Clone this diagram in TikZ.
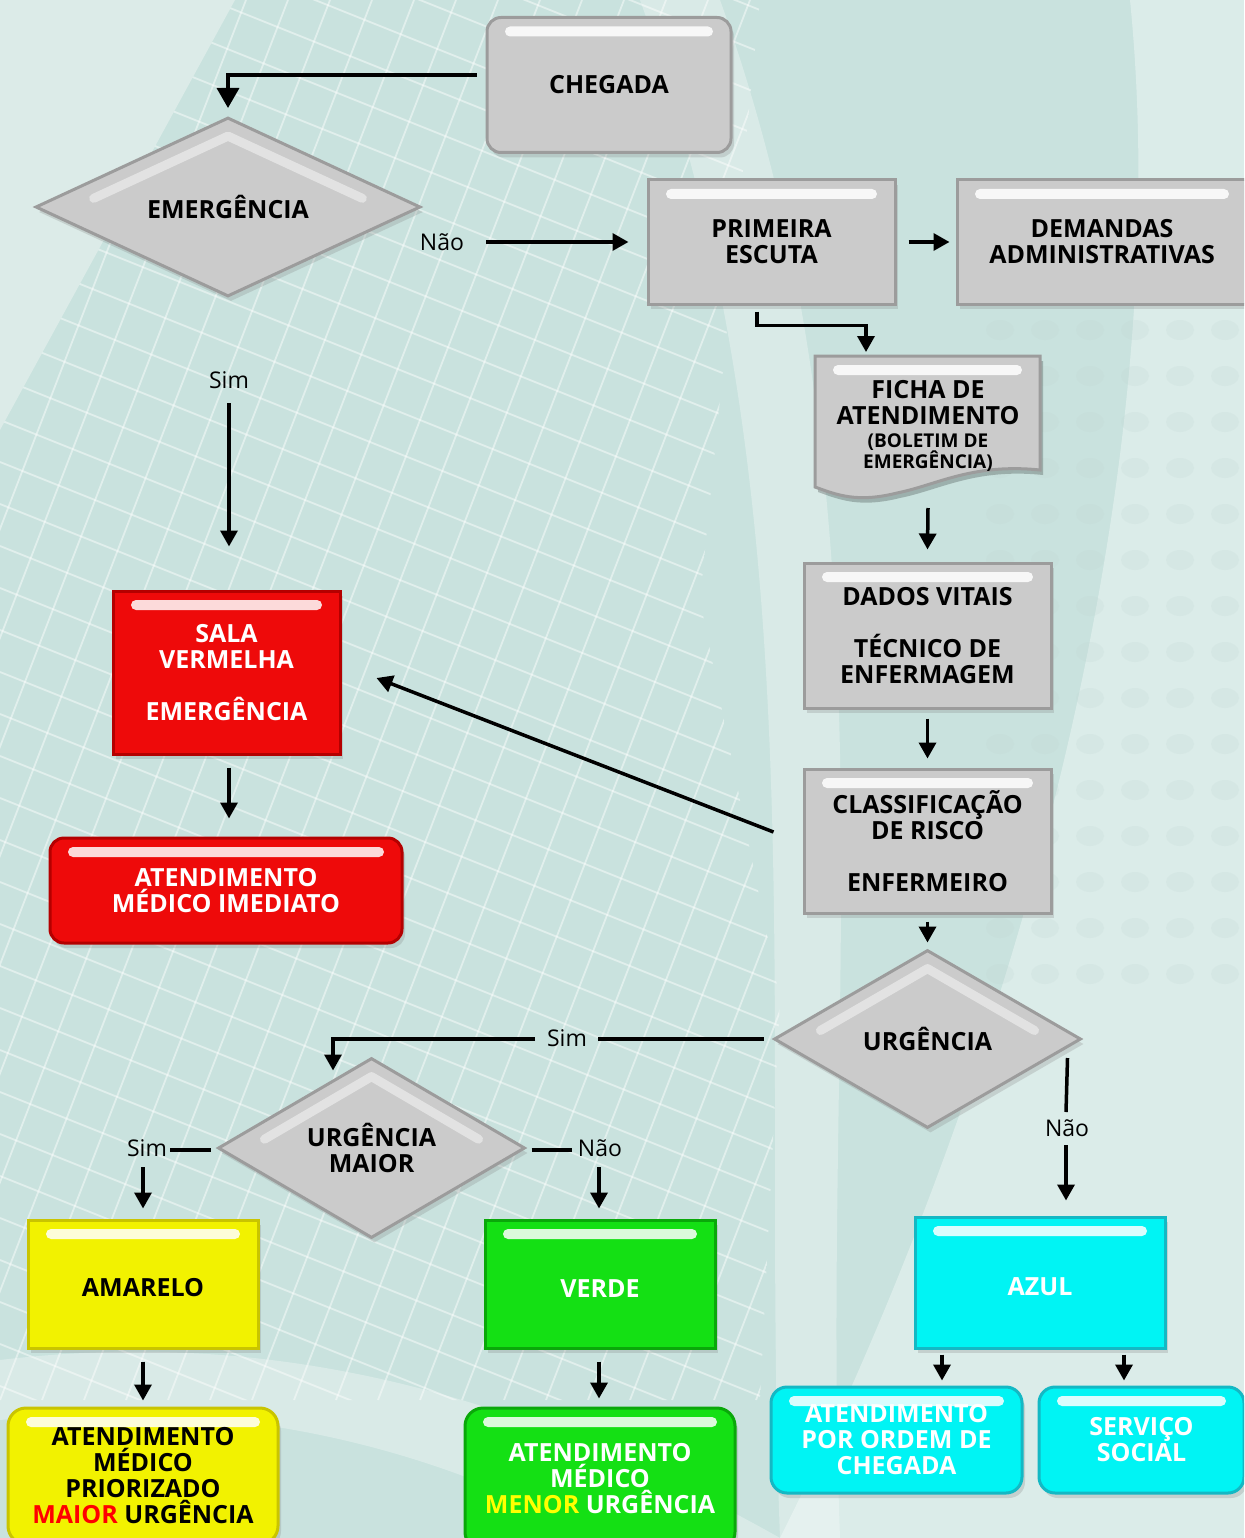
\documentclass[tikz,border=0pt]{standalone}
\usepackage{fontspec}
\setmainfont{Open Sans}
\usetikzlibrary{shapes.geometric,arrows.meta,shadows,calc}
\definecolor{bgA}{HTML}{C9E2DE}
\definecolor{bgL}{HTML}{DCEBE8}
\definecolor{boxgray}{HTML}{CBCBCB}
\definecolor{edgegray}{HTML}{9C9C9C}
\definecolor{rd}{HTML}{EE0A0A}
\definecolor{rdedge}{HTML}{B40000}
\definecolor{yl}{HTML}{F2F200}
\definecolor{yledge}{HTML}{C9C400}
\definecolor{gr}{HTML}{14E014}
\definecolor{gredge}{HTML}{0AA80A}
\definecolor{cy}{HTML}{00F4F4}
\definecolor{cyedge}{HTML}{14B8C4}
\definecolor{pured}{HTML}{FF0000}
\definecolor{pureyl}{HTML}{FFFF00}
\tikzset{
  bfont/.style={font=\bfseries\fontsize{25}{26}\selectfont},
  flowbox/.style={rectangle, inner sep=0pt, align=center, bfont, line width=3pt,
    drop shadow={opacity=.25,shadow xshift=3pt,shadow yshift=-5pt},
    path picture={\fill[white,opacity=.85,rounded corners=5pt]
      ($(path picture bounding box.north west)+(18,9)$) rectangle
      ($(path picture bounding box.north east)+(-18,19)$);}},
  graybox/.style={flowbox, fill=boxgray, draw=edgegray, text=black},
  redbox/.style={flowbox, fill=rd, draw=rdedge, text=white},
  ylbox/.style={flowbox, fill=yl, draw=yledge, text=black},
  grbox/.style={flowbox, fill=gr, draw=gredge, text=white},
  cybox/.style={flowbox, fill=cy, draw=cyedge, text=white},
  decision/.style={diamond, inner sep=0pt, align=center, bfont, fill=boxgray,
    draw=edgegray, line width=3pt, text=black,
    drop shadow={opacity=.25,shadow xshift=3pt,shadow yshift=-5pt},
    path picture={\draw[white,opacity=.45,line width=9pt,line cap=round,line join=round]
      ($(path picture bounding box.west)!0.3!(path picture bounding box.north)+(0,18)$) --
      ($(path picture bounding box.north)+(0,18)$) --
      ($(path picture bounding box.east)!0.3!(path picture bounding box.north)+(0,18)$);}},
  lbl/.style={font=\fontsize{23}{26}\selectfont, inner sep=0pt, text=black},
  conn/.style={line width=3.5pt, black},
  arr/.style={conn, -{Triangle[width=17pt,length=16pt]}},
  bigarr/.style={conn, -{Triangle[width=22pt,length=20pt]}},
}
\begin{document}
\begin{tikzpicture}[x=1pt,y=-1pt]
\useasboundingbox (0,0) rectangle (1244,1538);
\clip (0,0) rectangle (1244,1538);
% ---------- background ----------
\fill[bgA] (0,0) rectangle (1244,1538);
\fill[bgL] (0,0) -- (235,0) -- (0,430) -- cycle;
\fill[white,opacity=.35] (1244,0) -- (1130,0) .. controls (1180,500) and (1000,1100) .. (780,1538) -- (1244,1538) -- cycle;
\fill[white,opacity=.3] (640,0) .. controls (820,500) and (760,1000) .. (780,1538) -- (840,1538) .. controls (820,1000) and (900,500) .. (720,0) -- cycle;
\fill[white,opacity=.3] (0,1360) .. controls (250,1330) and (500,1380) .. (780,1538) -- (600,1538) .. controls (400,1430) and (200,1400) .. (0,1420) -- cycle;
\begin{scope}
  \clip (235,0) -- (760,0) -- (700,600) -- (780,1000) -- (760,1400) -- (0,1400) -- (0,430) -- cycle;
  \foreach \i in {0,...,32} {
    \draw[white,opacity=.45,line width=1.8pt] (\i*42-420,1400) -- (\i*42+120,0);
  }
  \foreach \j in {-12,...,36} {
    \draw[white,opacity=.45,line width=1.8pt] (0,\j*42) -- (800,\j*42+320);
  }
\end{scope}
\foreach \r in {0,...,14} {
  \foreach \c in {0,...,5} {
    \fill[bgA!85!gray,opacity=.18] (1000+\c*45,330+\r*46) ellipse (14pt and 10pt);
  }
}
% ---------- nodes ----------
\node[graybox, rounded corners=14pt, minimum width=244pt, minimum height=135pt] (chegada) at (609,85) {CHEGADA};
\node[decision, aspect=2.15, minimum width=385pt, minimum height=179pt] (emerg) at (228,207) {EMERGÊNCIA};
\node[graybox, minimum width=247pt, minimum height=124pt] (primeira) at (771.5,242) {PRIMEIRA\\ESCUTA};
\node[graybox, minimum width=290pt, minimum height=124pt] (demandas) at (1102,242) {DEMANDAS\\ADMINISTRATIVAS};
% ficha (document shape)
\fill[black,opacity=.22] (818,361) -- (1043,361) -- (1043,475) .. controls (975,468) and (940,490) .. (900,498) .. controls (860,508) and (840,500) .. (818,492) -- cycle;
\filldraw[fill=boxgray, draw=edgegray, line width=3pt] (815,356) -- (1040,356) -- (1040,470) .. controls (972,463) and (937,485) .. (897,493) .. controls (857,503) and (837,495) .. (815,487) -- cycle;
\fill[white,opacity=.85,rounded corners=5pt] (833,365) rectangle (1022,375);
\node[inner sep=0pt, align=center, bfont] (ficha) at (928,426) {FICHA DE\\ATENDIMENTO\\[-3pt]\fontsize{19}{21}\selectfont (BOLETIM DE\\[-5pt]\fontsize{19}{21}\selectfont EMERGÊNCIA)};
\coordinate (fichatop) at (928,356);
\coordinate (fichabot) at (928,500);
\node[graybox, minimum width=247pt, minimum height=145pt] (dados) at (927.5,635.5) {DADOS VITAIS\\[26pt]TÉCNICO DE\\ENFERMAGEM};
\node[graybox, minimum width=247pt, minimum height=144pt] (class) at (927.5,841) {CLASSIFICAÇÃO\\DE RISCO\\[26pt]ENFERMEIRO};
\node[decision, aspect=1.72, minimum width=307pt, minimum height=178pt] (urg) at (927.5,1039) {URGÊNCIA};
\node[redbox, minimum width=227pt, minimum height=163pt] (sala) at (226.5,672.5) {SALA\\VERMELHA\\[26pt]EMERGÊNCIA};
\node[redbox, rounded corners=14pt, minimum width=352pt, minimum height=105pt] (imed) at (226,890.5) {ATENDIMENTO\\MÉDICO IMEDIATO};
\node[decision, aspect=1.7, minimum width=307pt, minimum height=180pt] (urgmaior) at (371.5,1148) {URGÊNCIA\\MAIOR};
\node[ylbox, text height=26pt, minimum width=230pt, minimum height=128pt] (amarelo) at (143,1284) {AMARELO};
\node[grbox, text height=26pt, minimum width=230pt, minimum height=128pt] (verde) at (600,1284) {VERDE};
\node[cybox, text height=26pt, minimum width=250pt, minimum height=131pt] (azul) at (1040,1282.5) {AZUL};
\node[ylbox, rounded corners=18pt, minimum width=270pt, minimum height=136pt] (prior) at (143,1476) {ATENDIMENTO\\MÉDICO\\PRIORIZADO\\\textcolor{pured}{MAIOR} URGÊNCIA};
\node[grbox, rounded corners=18pt, minimum width=270pt, minimum height=142pt] (menor) at (600,1479) {ATENDIMENTO\\MÉDICO\\\textcolor{pureyl}{MENOR} URGÊNCIA};
\node[cybox, rounded corners=16pt, minimum width=251pt, minimum height=106pt] (ordem) at (896.5,1440) {ATENDIMENTO\\POR ORDEM DE\\CHEGADA};
\node[cybox, rounded corners=16pt, minimum width=205pt, minimum height=106pt] (social) at (1141.5,1440) {SERVIÇO\\SOCIAL};
% labels
\node[lbl] (nao1) at (442,242) {Não};
\node[lbl] (sim1) at (229,380) {Sim};
\node[lbl] (sim2) at (567,1038) {Sim};
\node[lbl] (sim3) at (147,1148) {Sim};
\node[lbl] (nao2) at (600,1148) {Não};
\node[lbl] (nao3) at (1067,1128) {Não};
% ---------- connectors ----------
\draw[bigarr] ($(chegada.west)+(-9,-10)$) -| ($(emerg.north)+(0,-8)$);
\draw[arr] ($(nao1)+(44,0)$) -- ($(primeira.west)+(-18,0)$);
\draw[arr] ($(primeira.east)+(12,0)$) -- ($(demandas.west)+(-6,0)$);
\draw[arr] ($(primeira.south)+(-14.5,6)$) -- ++(0,14) -| ($(fichatop)+(-62,-4)$);
\draw[arr] ($(fichabot)+(0,8)$) -- ($(dados.north)+(0,-12)$);
\draw[arr] ($(dados.south)+(0,9)$) -- ($(class.north)+(0,-9)$);
\draw[arr] ($(class.south)+(0,7)$) -- ($(urg.north)+(0,-6)$);
\draw[arr] ($(class.west)+(-29,-9)$) -- ($(sala.east)+(35,5.5)$);
\draw[arr] ($(sim1)+(0,23)$) -- ($(sala.north)+(2.5,-43)$);
\draw[arr] ($(sala.south)+(2.5,12)$) -- ($(imed.north)+(3,-18)$);
\draw[conn] ($(urg.west)+(-9,0)$) -- ($(sim2)+(31,1)$);
\draw[arr] ($(sim2)+(-32,1)$) -| ($(urgmaior.north)+(-38.5,14)$);
\draw[conn] ($(urgmaior.west)+(-6,2)$) -- ($(sim3)+(23,2)$);
\draw[arr] ($(sim3)+(-4,19)$) -- ($(amarelo.north)+(0,-10)$);
\draw[conn] ($(urgmaior.east)+(5,2)$) -- ($(nao2)+(-28,2)$);
\draw[arr] ($(nao2)+(-1,19)$) -- ($(verde.north)+(-1,-10)$);
\draw[conn] ($(urg.east)+(-15,19)$) -- ($(nao3)+(-1,-16)$);
\draw[arr] ($(nao3)+(-1,17)$) -- ($(azul.north)+(26,-15)$);
\draw[arr] ($(amarelo.south)+(0,12)$) -- ($(prior.north)+(0,-6)$);
\draw[arr] ($(verde.south)+(-1,12)$) -- ($(menor.north)+(-1,-8)$);
\draw[arr] ($(azul.south)+(-98,5)$) -- ($(ordem.north)+(45.5,-5)$);
\draw[arr] ($(azul.south)+(84,5)$) -- ($(social.north)+(-17.5,-5)$);
\end{tikzpicture}
\end{document}
